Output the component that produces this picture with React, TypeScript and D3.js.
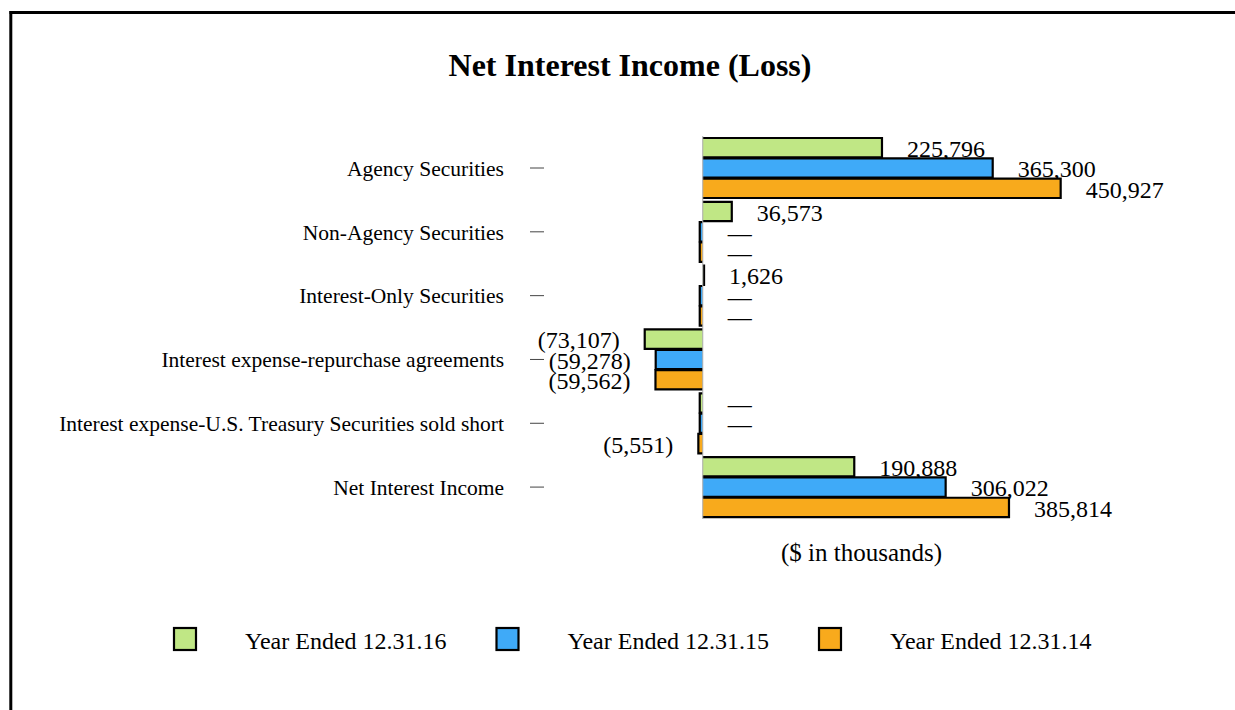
import { useEffect, useRef } from "react";
import * as d3 from "d3";

const categories = [
  "Agency Securities",
  "Non-Agency Securities",
  "Interest-Only Securities",
  "Interest expense-repurchase agreements",
  "Interest expense-U.S. Treasury Securities sold short",
  "Net Interest Income",
];
const seriesNames = ["Year Ended 12.31.16", "Year Ended 12.31.15", "Year Ended 12.31.14"];
const values16 = [225796, 36573, 1626, -73107, 0, 190888];
const values15 = [365300, 0, 0, -59278, 0, 306022];
const values14 = [450927, 0, 0, -59562, -5551, 385814];
const seriesColors = ["#c0e785", "#3faaf8", "#f8aa1c"];

const W = 1235;
const H = 710;
const FONT = "'Liberation Serif', 'Times New Roman', serif";

export default function App() {
  const ref = useRef<SVGSVGElement>(null);

  useEffect(() => {
    const svg = d3.select(ref.current!);
    svg.selectAll("*").remove();

    const series = [values16, values15, values14];

    // frame (only top and left edges show in the picture)
    svg.append("line").attr("x1", 9.5).attr("x2", W).attr("y1", 12.5).attr("y2", 12.5)
      .attr("stroke", "#000").attr("stroke-width", 3);
    svg.append("line").attr("x1", 10.8).attr("x2", 10.8).attr("y1", 11).attr("y2", H)
      .attr("stroke", "#000").attr("stroke-width", 3);

    svg.append("text")
      .attr("x", 630).attr("y", 76)
      .attr("text-anchor", "middle")
      .style("font-family", FONT).style("font-size", "32px").style("font-weight", "bold")
      .text("Net Interest Income (Loss)");

    const x = d3.scaleLinear().domain([-200000, 600000]).range([544, 1179]);
    const y = d3.scaleBand<string>().domain(categories).range([136.1, 519]);
    const inner = d3.scaleBand<number>().domain([0, 1, 2]).range([0, 60]).paddingInner(0.05);
    const offset = (y.bandwidth() - 60) / 2;

    // category axis: ticks only, no domain line
    const yAxis = svg.append("g")
      .attr("transform", `translate(${x.range()[0]},0)`)
      .call(d3.axisLeft(y).tickSizeInner(14).tickSizeOuter(0).tickPadding(26));
    yAxis.select(".domain").remove();
    yAxis.selectAll(".tick line").attr("stroke", "#444").attr("stroke-width", 1);
    yAxis.selectAll(".tick text")
      .attr("fill", "#000").attr("dy", "0.36em")
      .style("font-family", FONT).style("font-size", "21.5px");

    const fmt = d3.format(",");
    const x0 = x(0);

    series.forEach((vals, si) => {
      const g = svg.append("g");
      const rows = vals.map((v, ci) => {
        const top = y(categories[ci])! + offset + inner(si)!;
        const end = v === 0 ? x0 - 3 : x(v);
        return { v, top, h: inner.bandwidth(), end };
      });

      g.selectAll("rect").data(rows).join("rect")
        .attr("x", (d) => Math.min(x0, d.end))
        .attr("width", (d) => Math.abs(d.end - x0))
        .attr("y", (d) => d.top)
        .attr("height", (d) => d.h)
        .attr("fill", seriesColors[si]);

      // outline on three sides, open at the zero line
      g.selectAll("path").data(rows).join("path")
        .attr("d", (d) => `M${x0},${d.top}H${d.end}V${d.top + d.h}H${x0}`)
        .attr("fill", "none")
        .attr("stroke", "#000")
        .attr("stroke-width", 2.2);

      g.selectAll("text").data(rows).join("text")
        .attr("x", (d) => (d.v < 0 ? x(d.v) - 25 : x(d.v) + 25))
        .attr("y", (d) => d.top + d.h - 0.5)
        .attr("text-anchor", (d) => (d.v < 0 ? "end" : "start"))
        .style("font-family", FONT).style("font-size", "24px")
        .text((d) => (d.v === 0 ? "—" : d.v < 0 ? `(${fmt(-d.v)})` : fmt(d.v)));
    });

    svg.append("line")
      .attr("x1", x0).attr("x2", x0)
      .attr("y1", y.range()[0]).attr("y2", y.range()[1])
      .attr("stroke", "#aaa").attr("stroke-width", 1);

    svg.append("text")
      .attr("x", (x.range()[0] + x.range()[1]) / 2).attr("y", 561)
      .attr("text-anchor", "middle")
      .style("font-family", FONT).style("font-size", "25px")
      .text("($ in thousands)");

    const legend = svg.append("g").attr("transform", "translate(174,628)");
    const item = legend.selectAll("g").data(seriesNames).join("g")
      .attr("transform", (_, i) => `translate(${i * 322.5},0)`);
    item.append("rect")
      .attr("width", 22).attr("height", 22)
      .attr("fill", (_, i) => seriesColors[i])
      .attr("stroke", "#000").attr("stroke-width", 2.2);
    item.append("text")
      .attr("x", 71).attr("y", 21)
      .style("font-family", FONT).style("font-size", "24px")
      .text((d) => d);
  }, []);

  return (
    <svg
      ref={ref}
      width={W}
      height={H}
      style={{ position: "absolute", left: 0, top: 0, background: "#fff" }}
    />
  );
}
